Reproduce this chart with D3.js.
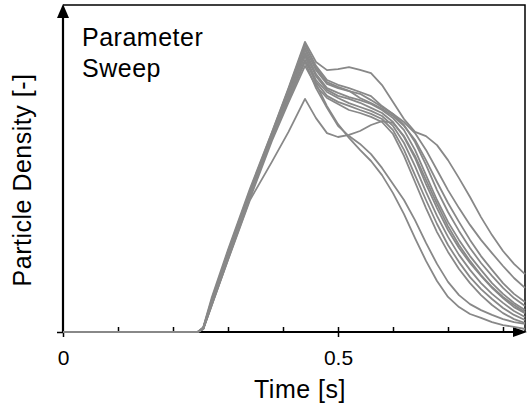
<!DOCTYPE html>
<html>
<head>
<meta charset="utf-8">
<script src="https://cdn.jsdelivr.net/npm/d3@7"></script>
<style>
  body { margin: 0; background: #fff; }
  svg { display: block; }
  text { font-family: "Liberation Sans", Arial, sans-serif; fill: #000; }
</style>
</head>
<body>
<svg id="chart"></svg>
<script>
// time grid shared by every run [s]
const times = [0, 0.245, 0.255, 0.27, 0.30, 0.34, 0.38, 0.41, 0.44,
  0.46, 0.48, 0.50, 0.52, 0.54, 0.56, 0.58, 0.60, 0.62, 0.64, 0.66,
  0.68, 0.70, 0.72, 0.74, 0.76, 0.78, 0.80, 0.82, 0.84]

// particle density per run (arbitrary units)
const run01 = [0, 0, 1.6, 11.2, 27.4, 47.8, 66.6, 81.3, 96.7, 90, 87.3, 87.6, 88.3, 87.4, 86.3, 82.3, 76.7, 71, 66.7, 65.3, 62.3, 57.3, 51.3, 45, 38.3, 32.3, 27, 22.7, 19.3]
const run02 = [0, 0, 1.2, 10, 26, 46.5, 66, 80.7, 95.7, 88.7, 84, 82.4, 81.3, 80, 78.6, 75.3, 72.7, 70, 66.3, 60.7, 54, 47.3, 41.3, 35.7, 30.7, 26.3, 22, 18, 14.7]
const run03 = [0, 0, 1.4, 10.6, 26.8, 47.2, 66.5, 81, 96, 88, 83.3, 81.7, 80.4, 78, 76.3, 74.4, 72, 68.7, 64, 57.3, 50, 43, 36.7, 30.7, 25.3, 20.7, 16.3, 12.7, 10]
const run04 = [0, 0, 1.3, 9.8, 25.6, 46, 65.8, 80.1, 94.7, 87.3, 82.7, 81.3, 80.3, 79.4, 77.3, 75, 72.7, 69, 63.3, 55.7, 47.3, 40, 33.7, 28, 23, 18.7, 14.7, 11.3, 8.7]
const run05 = [0, 0, 1.1, 9.2, 24.8, 45.3, 65.3, 79.7, 94, 86, 81.3, 79.7, 78.3, 77.3, 76, 74, 71.3, 67.3, 60.7, 52.3, 44, 36.7, 30.7, 25.3, 20.7, 16.3, 12.7, 9.7, 7.3]
const run06 = [0, 0, 1.2, 9.8, 25.5, 45.8, 65.4, 79.1, 93, 85.3, 80.7, 78.7, 77.7, 76.4, 74.7, 73, 70, 65, 58, 49.3, 41.3, 34, 28, 23, 18.7, 14.7, 11.3, 8.3, 6.3]
const run07 = [0, 0, 1.0, 8.9, 24.5, 45, 64.8, 78.5, 92, 84, 80, 78, 76.3, 75, 73.7, 72, 68.7, 63, 55.3, 46.7, 38.7, 31.7, 25.7, 20.7, 16.3, 12.7, 9.7, 7, 5]
const run08 = [0, 0, 1.2, 9.7, 25.4, 45.5, 64.6, 77.7, 90.7, 83.3, 78.7, 76.7, 75.4, 74, 72.7, 71, 67.3, 60.7, 52.3, 44, 36, 29, 23.3, 18.3, 14.3, 11, 8, 5.7, 4]
const run09 = [0, 0, 0.9, 8.6, 24.2, 44.5, 63.8, 76.5, 88.7, 82, 78, 76, 74, 73, 71.7, 70, 66, 58.7, 50, 41.3, 33.3, 26.7, 21, 16.3, 12.3, 9, 6.3, 4.3, 3]
const run10 = [0, 0, 1.0, 8.8, 24, 44, 56.8, 66.7, 77.7, 71.3, 66.3, 65, 65.7, 67, 69, 70.3, 69.7, 65.3, 58.7, 50.7, 42.7, 35.3, 29, 23.7, 19, 15, 11.7, 9, 6.7]
const run11 = [0, 0, 1.3, 10, 25.8, 46.2, 65.3, 78.7, 92.3, 82.7, 75.3, 69.3, 64.7, 60.7, 57, 52.3, 46.3, 39.3, 31.3, 23.7, 17, 11.7, 8.3, 6, 4.7, 3.3, 2.3, 1.7, 1]
const run12 = [0, 0, 1.2, 9.4, 25, 45.4, 64.4, 77.3, 90, 81.3, 74.7, 68.7, 65.3, 62.7, 59.3, 54.7, 49.3, 44, 37.3, 29.7, 22.7, 16.7, 12.3, 9.3, 7.3, 5.7, 4.3, 3.3, 2.7]

const runs = [run01, run02, run03, run04, run05, run06, run07, run08, run09, run10, run11, run12]

const majorTicks = [0, 0.5]
const minorTicks = [0.1, 0.2, 0.3, 0.4, 0.6, 0.7, 0.8]

const width = 529
const height = 409
const margin = { top: 5, right: 4, bottom: 77, left: 63 }

const svg = d3.select('#chart')
    .attr('width', width)
    .attr('height', height)

const x = d3.scaleLinear()
    .domain([0, 0.84])
    .range([margin.left, width - margin.right])

const y = d3.scaleLinear()
    .domain([0, 109])
    .range([height - margin.bottom, margin.top])

const x0 = x(0), x1 = x(0.84), y0 = y(0), y1 = y(109)

// frame (top and right)
svg.append('path')
    .attr('d', `M${x0},${y1}H${x1}V${y0}`)
    .attr('fill', 'none')
    .attr('stroke', '#000')
    .attr('stroke-width', 1.5)

// minor ticks point inwards
svg.append('g')
    .attr('transform', `translate(0,${y0})`)
    .call(d3.axisTop(x).tickValues(minorTicks.concat([0.5])).tickSize(5).tickFormat(''))
    .call(g => g.select('.domain').remove())
    .call(g => g.selectAll('line').attr('stroke-width', 1.5))

// major ticks with labels
svg.append('g')
    .attr('transform', `translate(0,${y0})`)
    .call(d3.axisBottom(x).tickValues(majorTicks).tickSize(5).tickPadding(13)
        .tickFormat(d => d === 0 ? '0' : d3.format('.1f')(d)))
    .call(g => g.select('.domain').remove())
    .call(g => g.selectAll('line').attr('stroke-width', 1.5))
    .call(g => g.selectAll('text').style('font-size', '21px').style('font-family', '"Liberation Sans", Arial, sans-serif'))

svg.append('g')
    .attr('transform', `translate(${x0},0)`)
    .call(d3.axisLeft(y).tickValues([0]).tickSize(6).tickFormat(''))
    .call(g => g.select('.domain').remove())
    .call(g => g.selectAll('line').attr('stroke-width', 1.5))

// axis lines with arrow heads
svg.append('line')
    .attr('x1', x0).attr('y1', y0).attr('x2', x0).attr('y2', y1 + 10)
    .attr('stroke', '#000').attr('stroke-width', 2.2)
svg.append('path')
    .attr('d', `M${x0},${y1 - 1}L${x0 - 6},${y1 + 13}L${x0 + 6},${y1 + 13}Z`)
    .attr('fill', '#000')

svg.append('line')
    .attr('x1', x0).attr('y1', y0).attr('x2', x1 - 8).attr('y2', y0)
    .attr('stroke', '#000').attr('stroke-width', 2.2)
svg.append('path')
    .attr('d', `M${x1 + 2},${y0}L${x1 - 12},${y0 - 5}L${x1 - 12},${y0 + 5}Z`)
    .attr('fill', '#000')

// runs
const line = d3.line()
    .x((d, i) => x(times[i]))
    .y(d => y(d))

svg.append('g')
    .selectAll('path')
    .data(runs)
    .join('path')
        .attr('d', line)
        .attr('fill', 'none')
        .attr('stroke', '#888888')
        .attr('stroke-width', 1.8)
        .attr('stroke-linejoin', 'round')

// labels
const label = (sel) => sel.style('font-size', '25px').style('letter-spacing', '0.5px')

svg.append('text')
    .attr('x', 82).attr('y', 46)
    .call(label)
    .text('Parameter')
svg.append('text')
    .attr('x', 82).attr('y', 77)
    .call(label)
    .text('Sweep')

svg.append('text')
    .attr('x', 300).attr('y', 398)
    .attr('text-anchor', 'middle')
    .call(label)
    .text('Time [s]')

svg.append('text')
    .attr('transform', 'translate(31,180) rotate(-90)')
    .attr('text-anchor', 'middle')
    .call(label)
    .text('Particle Density [-]')
</script>
</body>
</html>
